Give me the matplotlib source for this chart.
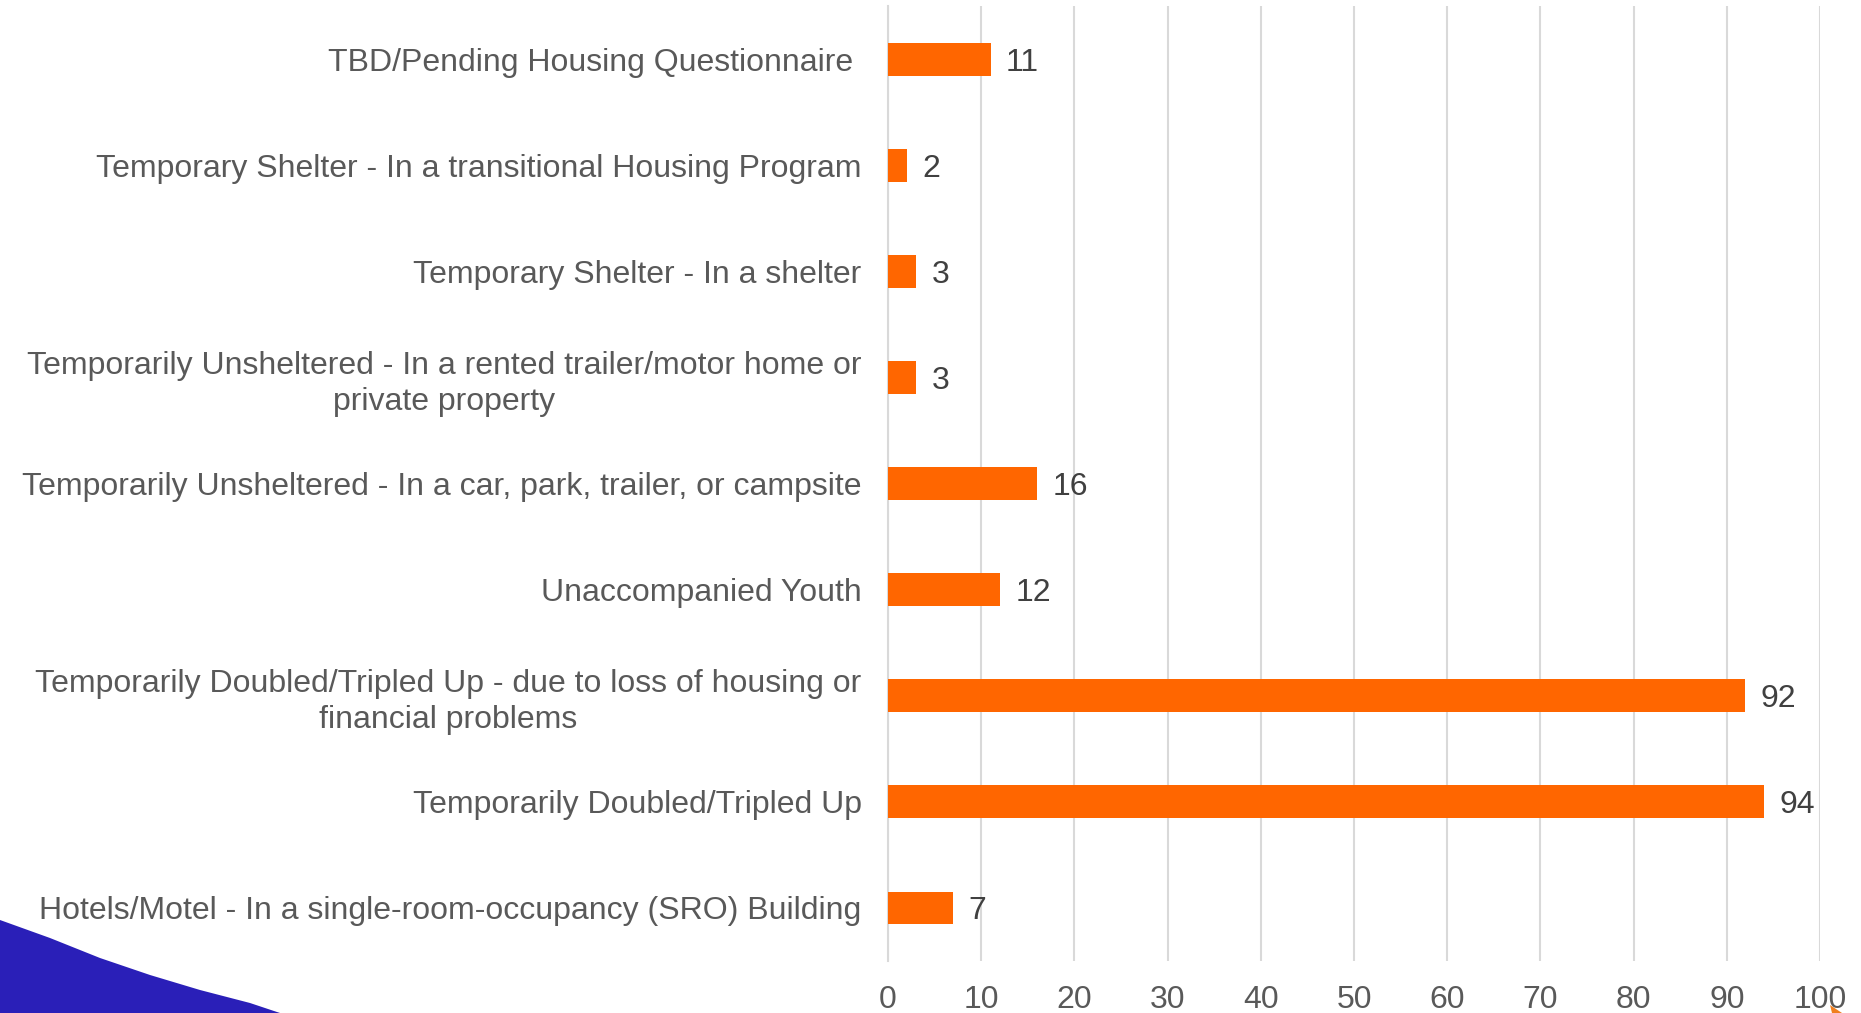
import matplotlib.pyplot as plt
from matplotlib.patches import Polygon

plt.rcParams['font.family'] = ['Liberation Sans', 'DejaVu Sans']

# categories listed bottom to top
categories = [
    "Hotels/Motel - In a single-room-occupancy (SRO) Building",
    "Temporarily Doubled/Tripled Up",
    "Temporarily Doubled/Tripled Up - due to loss of housing or\nfinancial problems",
    "Unaccompanied Youth",
    "Temporarily Unsheltered - In a car, park, trailer, or campsite",
    "Temporarily Unsheltered - In a rented trailer/motor home or\nprivate property",
    "Temporary Shelter - In a shelter",
    "Temporary Shelter - In a transitional Housing Program",
    "TBD/Pending Housing Questionnaire ",
]
counts = [7, 94, 92, 12, 16, 3, 3, 2, 11]
xticks = [0, 10, 20, 30, 40, 50, 60, 70, 80, 90, 100]

fig = plt.figure(figsize=(18.61, 10.13), dpi=100)
ax = fig.add_axes([0.4772, 0.0513, 0.5008, 0.9427])

ypos = range(len(categories))
ax.barh(ypos, counts, height=0.31, color='#ff6600', zorder=3)
for y, v in zip(ypos, counts):
    ax.annotate(str(v), (v, y), xytext=(11, 0), textcoords='offset points',
                va='center_baseline', ha='left', fontsize=23, color='#404040')

ax.set_xlim(0, 100)
ax.set_ylim(-0.5, len(categories) - 0.5)
ax.set_xticks(xticks)
ax.set_yticks(list(ypos))
ax.set_yticklabels(categories)
for lbl in ax.get_yticklabels():
    lbl.set_multialignment('center')
    lbl.set_linespacing(1.27)

ax.tick_params(axis='y', length=0, pad=19, labelsize=23, labelcolor='#595959')
ax.tick_params(axis='x', length=0, pad=17, labelsize=23, labelcolor='#595959')
ax.grid(axis='x', color='#d9d9d9', linewidth=1.5, zorder=0)
for s in ['top', 'right', 'bottom']:
    ax.spines[s].set_visible(False)
ax.spines['left'].set_color('#d9d9d9')
ax.spines['left'].set_linewidth(1.5)

# slide decoration in the lower left corner
W, H = 1861, 1013
curve = [(0, 920), (50, 938), (100, 958), (150, 975), (200, 990), (250, 1003), (280, 1013)]
pts = [(x / W, 1 - y / H) for x, y in curve] + [(0, 0)]
blue = Polygon(pts, closed=True, transform=fig.transFigure,
               facecolor='#2a1fb8', edgecolor='none')
fig.patches.append(blue)
orange = Polygon([(1830 / W, 1 - 1005 / H), (1842 / W, 0), (1832 / W, 0)], closed=True,
                 transform=fig.transFigure, facecolor='#f07f1f', edgecolor='none')
fig.patches.append(orange)

fig.savefig('out.png', dpi=100)
